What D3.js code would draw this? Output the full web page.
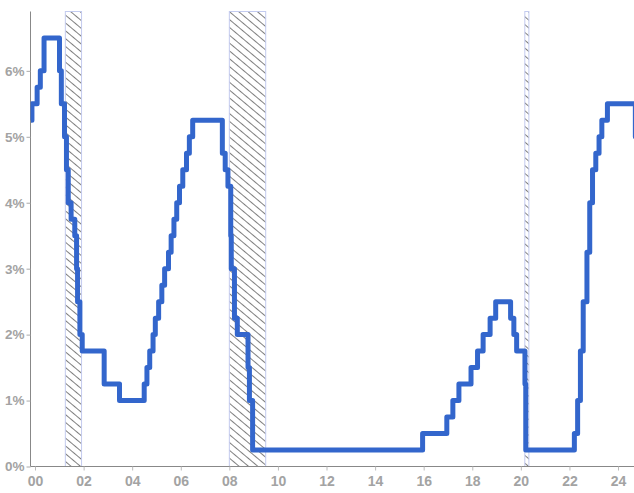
<!DOCTYPE html>
<html>
<head>
<meta charset="utf-8">
<script src="https://cdn.jsdelivr.net/npm/d3@7"></script>
<style>
  html, body { margin: 0; padding: 0; background: #fff; }
  svg { display: block; }
  text { font-family: "Liberation Sans", Arial, sans-serif; font-weight: bold; }
</style>
</head>
<body>
<svg id="chart" width="634" height="493"></svg>
<script>
// Fed funds target (upper bound), step changes
const changeDates = [
  "1999-11-01","1999-11-16","2000-02-02","2000-03-21","2000-05-16",
  "2001-01-03","2001-01-31","2001-03-20","2001-04-18","2001-05-15","2001-06-27",
  "2001-08-21","2001-09-17","2001-10-02","2001-11-06","2001-12-11",
  "2002-11-06","2003-06-25",
  "2004-06-30","2004-08-10","2004-09-21","2004-11-10","2004-12-14",
  "2005-02-02","2005-03-22","2005-05-03","2005-06-30","2005-08-09","2005-09-20",
  "2005-11-01","2005-12-13","2006-01-31","2006-03-28","2006-05-10","2006-06-29",
  "2007-09-18","2007-10-31","2007-12-11","2008-01-22","2008-01-30","2008-03-18",
  "2008-04-30","2008-10-08","2008-10-29","2008-12-16",
  "2015-12-16","2016-12-14","2017-03-15","2017-06-14","2017-12-13",
  "2018-03-21","2018-06-13","2018-09-26","2018-12-19",
  "2019-07-31","2019-09-18","2019-10-30","2020-03-03","2020-03-15",
  "2022-03-16","2022-05-04","2022-06-15","2022-07-27","2022-09-21","2022-11-02",
  "2022-12-14","2023-02-01","2023-03-22","2023-05-03","2023-07-26",
  "2024-09-18","2024-12-31"
];
const rates = [
  5.25, 5.5, 5.75, 6.0, 6.5,
  6.0, 5.5, 5.0, 4.5, 4.0, 3.75,
  3.5, 3.0, 2.5, 2.0, 1.75,
  1.25, 1.0,
  1.25, 1.5, 1.75, 2.0, 2.25,
  2.5, 2.75, 3.0, 3.25, 3.5, 3.75,
  4.0, 4.25, 4.5, 4.75, 5.0, 5.25,
  4.75, 4.5, 4.25, 3.5, 3.0, 2.25,
  2.0, 1.5, 1.0, 0.25,
  0.5, 0.75, 1.0, 1.25, 1.5,
  1.75, 2.0, 2.25, 2.5,
  2.25, 2.0, 1.75, 1.25, 0.25,
  0.5, 1.0, 1.75, 2.5, 3.25, 4.0,
  4.5, 4.75, 5.0, 5.25, 5.5,
  5.0, 5.0
];
const recessionStarts = ["2001-04-01", "2008-01-01", "2020-03-01"];
const recessionEnds   = ["2001-12-01", "2009-07-01", "2020-05-01"];
const xTickYears  = [2000, 2002, 2004, 2006, 2008, 2010, 2012, 2014, 2016, 2018, 2020, 2022, 2024];
const xTickLabels = ["00","02","04","06","08","10","12","14","16","18","20","22","24"];
const yTicks      = [0, 1, 2, 3, 4, 5, 6];
const yTickLabels = ["0%","1%","2%","3%","4%","5%","6%"];

const parse = d3.utcParse("%Y-%m-%d");
const data = changeDates.map((d, i) => ({ date: parse(d), value: rates[i] }));

const W = 634, H = 493;
const plotLeft = 30.5, plotRight = 634, plotTop = 11.5, plotBottom = 466.5;

const x = d3.scaleUtc()
  .domain([Date.UTC(2000, 0, 1), Date.UTC(2024, 0, 1)])
  .range([35, 618]);
const y = d3.scaleLinear().domain([0, 6.9]).range([plotBottom, plotTop]);

const svg = d3.select("#chart");
const defs = svg.append("defs");

const pat = defs.append("pattern")
  .attr("id", "hatch")
  .attr("patternUnits", "userSpaceOnUse")
  .attr("width", 6).attr("height", 6)
  .attr("patternTransform", "rotate(-50)");
pat.append("line")
  .attr("x1", 0).attr("y1", 0).attr("x2", 0).attr("y2", 6)
  .attr("stroke", "#000").attr("stroke-width", 1);

defs.append("clipPath").attr("id", "clip")
  .append("rect")
  .attr("x", plotLeft).attr("y", 0)
  .attr("width", plotRight - plotLeft).attr("height", plotBottom);

// recession bands
const bands = recessionStarts.map((s, i) => ({ s: parse(s), e: parse(recessionEnds[i]) }));
svg.append("g").selectAll("rect").data(bands).join("rect")
  .attr("x", d => x(d.s))
  .attr("y", plotTop)
  .attr("width", d => x(d.e) - x(d.s))
  .attr("height", plotBottom - plotTop)
  .attr("fill", "url(#hatch)")
  .attr("stroke", "#c3cbef")
  .attr("stroke-width", 1);

// axes
const yAxis = d3.axisLeft(y)
  .tickValues(yTicks)
  .tickFormat((d, i) => yTickLabels[i])
  .tickSize(4).tickPadding(2);
const gy = svg.append("g").attr("transform", `translate(${plotLeft},0)`).call(yAxis);
gy.select(".domain").attr("stroke", "#888").attr("d", `M0,${plotTop}V${plotBottom}`);
gy.selectAll(".tick line").attr("stroke", "#aaa");
gy.selectAll(".tick text").attr("fill", "#a3a3a3").attr("font-size", 13.5)
  .attr("font-family", "Liberation Sans, Arial, sans-serif").attr("font-weight", "bold");

const xAxis = d3.axisBottom(x)
  .tickValues(xTickYears.map(yv => new Date(Date.UTC(yv, 0, 1))))
  .tickFormat((d, i) => xTickLabels[i])
  .tickSize(4).tickPadding(6);
const gx = svg.append("g").attr("transform", `translate(0,${plotBottom})`).call(xAxis);
gx.select(".domain").attr("stroke", "#888").attr("d", `M${plotLeft},0H${plotRight}`);
gx.selectAll(".tick line").attr("stroke", "#bbb");
gx.selectAll(".tick text").attr("fill", "#a3a3a3").attr("font-size", 14)
  .attr("font-family", "Liberation Sans, Arial, sans-serif").attr("font-weight", "bold");

// line
const line = d3.line()
  .x(d => x(d.date))
  .y(d => y(d.value))
  .curve(d3.curveStepAfter);
svg.append("path")
  .datum(data)
  .attr("clip-path", "url(#clip)")
  .attr("fill", "none")
  .attr("stroke", "#3366cc")
  .attr("stroke-width", 5)
  .attr("stroke-linejoin", "round")
  .attr("d", line);
</script>
</body>
</html>
